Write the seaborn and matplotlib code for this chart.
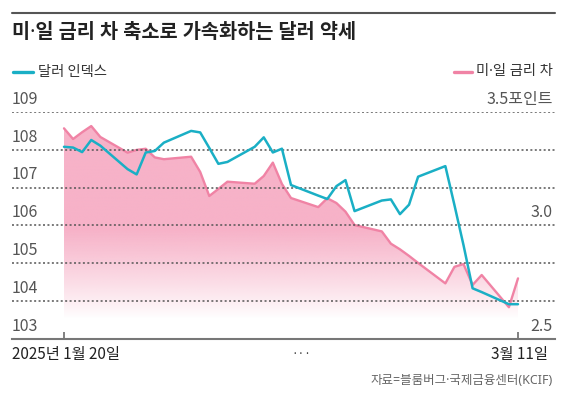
import numpy as np
import pandas as pd
import seaborn as sns
import matplotlib.pyplot as plt
import matplotlib.dates as mdates
from matplotlib import transforms

# trading days, 2025-01-20 .. 2025-03-11 (weekends are just joined by the line)
dates = pd.bdate_range("2025-01-20", "2025-03-11")

# dollar index (left axis)
dxy = [108.08, 108.06, 107.94, 108.26, 108.11,
       107.49, 107.35, 107.93, 107.97, 108.19,
       108.50, 108.46, 108.05, 107.63, 107.68,
       108.08, 108.33, 107.93, 108.03, 107.07,
       106.79, 106.70, 107.04, 107.20, 106.38,
       106.66, 106.69, 106.30, 106.55, 107.29,
       107.57, 106.54, 105.48, 104.34, 104.24,
       103.92, 103.92]

# US-Japan rate gap, %p (right axis)
gap = [3.428, 3.381, 3.411, 3.438, 3.390,
       3.321, 3.333, 3.338, 3.300, 3.292,
       3.303, 3.236, 3.130, 3.161, 3.193,
       3.184, 3.218, 3.277, 3.183, 3.121,
       3.081, 3.120, 3.099, 3.061, 3.002,
       2.974, 2.920, 2.895, 2.866, 2.835,
       2.745, 2.818, 2.830, 2.738, 2.782,
       2.640, 2.767]

left_ticks = [103, 104, 105, 106, 107, 108, 109]
right_ticks = [2.5, 3.0, 3.5]
right_labels = ["2.5", "3.0", "3.5포인트"]

teal = "#1aafc5"
pink_line = "#f083a5"
pink_fill = (247/255, 178/255, 200/255)

sns.set_theme(style="white")
plt.rcParams['font.family'] = ['Noto Sans CJK KR', 'DejaVu Sans']
dot_font = ['Noto Sans', 'Noto Sans CJK KR', 'DejaVu Sans']  # narrow middle dot

fig = plt.figure(figsize=(5.65, 3.96), dpi=100)
W, H = 565, 396
ax = fig.add_axes([12/W, 1-339/H, (555-12)/W, (339-112)/H])
ax2 = ax.twinx()

# pink series with gradient fill
sns.lineplot(x=dates, y=gap, ax=ax, color=pink_line, linewidth=1.7, zorder=3)
poly = ax.fill_between(dates, gap, 2.5, facecolor="none", edgecolor="none")
x0, x1 = mdates.date2num(dates[0]), mdates.date2num(dates[-1])
yy = np.linspace(3.5, 2.5, 300)
alpha = np.clip((yy - 2.59) / (2.98 - 2.59), 0, 1) ** 0.9
img = np.zeros((300, 2, 4))
img[..., 0], img[..., 1], img[..., 2] = pink_fill
img[..., 3] = alpha[:, None]
im = ax.imshow(img, extent=[x0, x1, 2.5, 3.5], aspect="auto", zorder=1,
               interpolation="bilinear")
im.set_clip_path(poly.get_paths()[0], transform=ax.transData)

# dollar index
sns.lineplot(x=dates, y=dxy, ax=ax2, color=teal, linewidth=1.8, zorder=4)

span = x1 - x0
ax.set_xlim(x0 - span * 52/454, x1 + span * 37/454)
ax.set_ylim(2.5, 3.5)
ax2.set_ylim(103, 109)

for v in left_ticks[1:]:
    ax2.axhline(v, color="#555555", lw=1.1, ls=(0, (1.3, 1.6)), zorder=2)

for a in (ax, ax2):
    a.set_xlabel("")
    a.set_ylabel("")
    a.set_yticks([])
    for s in ("top", "left", "right"):
        a.spines[s].set_visible(False)
    a.grid(False)
ax2.spines["bottom"].set_visible(False)
ax.spines["bottom"].set_color("#777777")
ax.spines["bottom"].set_linewidth(1.5)
ax.set_xticks([x0, x1])
ax.set_xticklabels([])
ax.tick_params(axis="x", direction="in", length=5, width=1.3, color="#777777", bottom=True)
ax2.tick_params(axis="x", bottom=False, labelbottom=False)

# axis value labels sitting on their gridlines
tl = transforms.blended_transform_factory(ax2.transAxes, ax2.transData)
for v in left_ticks:
    ax2.annotate(str(v), xy=(0, v), xycoords=tl, xytext=(0, 3), textcoords="offset points",
                 ha="left", va="bottom", fontsize=11.5, color="#555555")
tr = transforms.blended_transform_factory(ax.transAxes, ax.transData)
for v, lab in zip(right_ticks, right_labels):
    ax.annotate(lab, xy=(1, v), xycoords=tr, xytext=(-1.5, 3), textcoords="offset points",
                ha="right", va="bottom", fontsize=11.5, color="#555555")

# header
fig.add_artist(plt.Line2D([12/W, 555/W], [1-12.5/H, 1-12.5/H], color="#555555", lw=1.5))
fig.text(12/W, 1-33/H, "미·일 금리 차 축소로 가속화하는 달러 약세", fontsize=14.2,
         fontweight="bold", color="#222222", ha="left", va="center", family=dot_font)

# legend
fig.add_artist(plt.Line2D([13/W, 33/W], [1-72/H, 1-72/H], color=teal, lw=2.4))
fig.text(38/W, 1-72/H, "달러 인덱스", fontsize=10.3, color="#333333", ha="left", va="center")
fig.add_artist(plt.Line2D([454/W, 472/W], [1-72/H, 1-72/H], color=pink_line, lw=2.4))
fig.text(553/W, 1-72/H, "미·일 금리 차", fontsize=10.3, color="#333333", ha="right",
         va="center", family=dot_font)

# x labels and source
fig.text(12/W, 1-355/H, "2025년 1월 20일", fontsize=11, color="#222222", ha="left", va="center")
fig.text(301/W, 1-355/H, "···", fontsize=8.5, color="#333333", ha="center", va="center")
fig.text(548/W, 1-355/H, "3월 11일", fontsize=11, color="#222222", ha="right", va="center")
fig.text(553/W, 1-381/H, "자료=블룸버그·국제금융센터(KCIF)", fontsize=9, color="#666666",
         ha="right", va="center", family=dot_font)

fig.savefig("out.png", dpi=100)
